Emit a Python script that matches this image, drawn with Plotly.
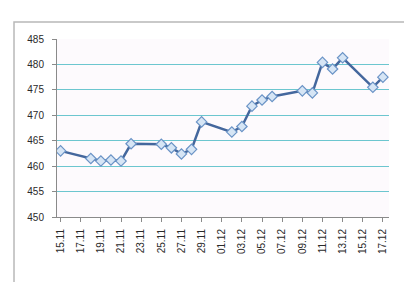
import plotly.graph_objects as go

dates = ["2013-11-15", "2013-11-18", "2013-11-19", "2013-11-20", "2013-11-21", "2013-11-22",
         "2013-11-25", "2013-11-26", "2013-11-27", "2013-11-28", "2013-11-29",
         "2013-12-02", "2013-12-03", "2013-12-04", "2013-12-05", "2013-12-06",
         "2013-12-09", "2013-12-10", "2013-12-11", "2013-12-12", "2013-12-13",
         "2013-12-16", "2013-12-17"]
values = [463.0, 461.5, 461.0, 461.2, 461.0, 464.4,
          464.3, 463.6, 462.4, 463.3, 468.7,
          466.7, 467.8, 471.8, 473.0, 473.7,
          474.8, 474.4, 480.4, 479.1, 481.3,
          475.5, 477.5]

fig = go.Figure()
fig.add_trace(go.Scatter(
    x=dates, y=values, mode="lines+markers",
    line=dict(color="#44679d", width=2.5),
    marker=dict(symbol="diamond", size=8, color="#d6e5f5",
                line=dict(color="#6a93c6", width=1.2)),
    showlegend=False,
))

fig.update_layout(
    width=404, height=274,
    margin=dict(l=49, r=23, t=31, b=65),
    paper_bgcolor="white",
    plot_bgcolor="#fdfafd",
    font=dict(family="Liberation Sans, Arial, sans-serif", size=10, color="#2a2a2a"),
    xaxis=dict(
        type="date",
        range=["2013-11-14 15:30", "2013-12-17 14:30"],
        tick0="2013-11-15", dtick=2 * 86400000,
        tickformat="%d.%m", tickangle=-90,
        showgrid=False, showline=True, linecolor="#8a8a8a", linewidth=1,
        ticks="outside", ticklen=4, tickcolor="#8a8a8a",
        ticklabelstandoff=3,
        tickfont=dict(size=10, color="#2a2a2a"),
    ),
    yaxis=dict(
        range=[450, 485], dtick=5, tick0=450,
        showgrid=True, gridcolor="#6cc6cf", gridwidth=1.3,
        showline=True, linecolor="#8a8a8a", linewidth=1,
        ticks="outside", ticklen=4, tickcolor="#8a8a8a",
        ticklabelstandoff=6,
        tickfont=dict(size=10, color="#2a2a2a"),
        zeroline=False,
    ),
    shapes=[dict(type="rect", xref="paper", yref="paper",
                 x0=-0.1295, x1=1.2, y0=-0.5, y1=1.0955,
                 line=dict(color="#b8b8b8", width=1.5), fillcolor="rgba(0,0,0,0)",
                 layer="below")],
)

fig.write_html("out.html")
